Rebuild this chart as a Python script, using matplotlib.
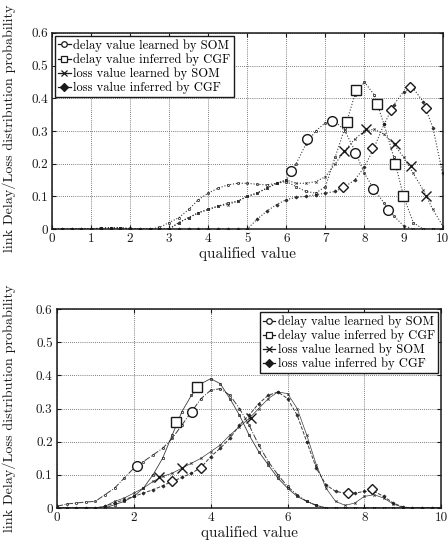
import numpy as np
import matplotlib
matplotlib.use("Agg")
import matplotlib.pyplot as plt
from matplotlib.lines import Line2D
from matplotlib.ticker import FixedLocator, FixedFormatter

plt.rcParams['font.family'] = ['cmr10', 'DejaVu Serif']
plt.rcParams['axes.formatter.use_mathtext'] = True

labels = ["delay value learned by SOM", "delay value inferred by CGF",
          "loss value learned by SOM", "loss value inferred by CGF"]
y_ticks = [0, 0.1, 0.2, 0.3, 0.4, 0.5, 0.6]
y_tick_labels = ["0", "0.1", "0.2", "0.3", "0.4", "0.5", "0.6"]

# ---------------- top panel ----------------
top_x = [0, 0.25, 0.5, 0.75, 1.0, 1.25, 1.5, 1.75, 2.0, 2.25, 2.5, 2.75, 3.0, 3.25, 3.5,
         3.75, 4.0, 4.25, 4.5, 4.75, 5.0, 5.25, 5.5, 5.75, 6.0, 6.25, 6.5, 6.75, 7.0,
         7.25, 7.5, 7.75, 8.0, 8.25, 8.5, 8.75, 9.0, 9.25, 9.5, 9.75, 10.0]
top_delay_som = [0, 0, 0, 0, 0.001, 0.003, 0.004, 0.004, 0.002, 0, 0, 0.005, 0.02, 0.035, 0.06,
                 0.09, 0.11, 0.125, 0.135, 0.14, 0.14, 0.137, 0.135, 0.14, 0.15, 0.2, 0.26, 0.3, 0.325,
                 0.33, 0.3, 0.24, 0.17, 0.12, 0.08, 0.04, 0.01, 0, 0, 0, 0]
top_delay_cgf = [0, 0, 0, 0, 0, 0.002, 0.003, 0.003, 0.001, 0, 0, 0, 0, 0.02, 0.035,
                 0.05, 0.06, 0.07, 0.08, 0.085, 0.1, 0.11, 0.125, 0.14, 0.145, 0.13, 0.115, 0.11, 0.13,
                 0.22, 0.31, 0.41, 0.45, 0.41, 0.32, 0.22, 0.1, 0.02, 0, 0, 0]
top_loss_som = [0, 0, 0, 0, 0, 0.002, 0.003, 0.003, 0.001, 0, 0, 0, 0, 0.02, 0.035,
                0.05, 0.06, 0.07, 0.075, 0.085, 0.1, 0.11, 0.125, 0.14, 0.15, 0.14, 0.14, 0.145, 0.16,
                0.2, 0.24, 0.275, 0.3, 0.305, 0.29, 0.26, 0.22, 0.17, 0.12, 0.06, 0.01]
top_loss_cgf = [0, 0, 0, 0, 0, 0, 0, 0, 0, 0, 0, 0, 0, 0, 0,
                0, 0, 0, 0, 0, 0, 0.03, 0.055, 0.075, 0.09, 0.097, 0.1, 0.105, 0.11,
                0.115, 0.13, 0.15, 0.19, 0.25, 0.32, 0.38, 0.42, 0.43, 0.39, 0.31, 0.17]

top_big_delay_som_x = [6.12, 6.52, 7.16, 7.75, 8.22, 8.6]
top_big_delay_som_y = [0.178, 0.275, 0.33, 0.233, 0.124, 0.058]
top_big_delay_cgf_x = [7.54, 7.78, 8.32, 8.77, 8.98]
top_big_delay_cgf_y = [0.327, 0.425, 0.382, 0.198, 0.101]
top_big_loss_som_x = [7.47, 8.05, 8.79, 9.18, 9.58]
top_big_loss_som_y = [0.24, 0.306, 0.259, 0.193, 0.1]
top_big_loss_cgf_x = [7.46, 8.18, 8.67, 9.17, 9.58]
top_big_loss_cgf_y = [0.129, 0.247, 0.364, 0.435, 0.371]

# ---------------- bottom panel ----------------
bot_x = top_x
bot_delay_som = [0.005, 0.012, 0.015, 0.018, 0.02, 0.04, 0.06, 0.09, 0.12, 0.14, 0.16, 0.18, 0.21, 0.25, 0.29,
                 0.33, 0.355, 0.36, 0.34, 0.3, 0.25, 0.19, 0.14, 0.1, 0.065, 0.04, 0.02, 0.008, 0,
                 0, 0, 0, 0, 0, 0, 0, 0, 0, 0, 0, 0]
bot_delay_cgf = [0, 0, 0, 0, 0, 0, 0.01, 0.02, 0.035, 0.06, 0.1, 0.15, 0.22, 0.29, 0.34,
                 0.375, 0.39, 0.375, 0.33, 0.28, 0.22, 0.17, 0.13, 0.09, 0.06, 0.035, 0.02, 0.008, 0,
                 0, 0, 0, 0, 0, 0, 0, 0, 0, 0, 0, 0]
bot_loss_som = [0, 0, 0, 0, 0, 0.005, 0.02, 0.03, 0.045, 0.06, 0.08, 0.095, 0.105, 0.12, 0.135,
                0.15, 0.17, 0.19, 0.22, 0.245, 0.27, 0.3, 0.33, 0.35, 0.345, 0.3, 0.22, 0.13, 0.06,
                0.02, 0.008, 0.015, 0.035, 0.04, 0.03, 0.012, 0.002, 0, 0, 0, 0]
bot_loss_cgf = [0, 0, 0, 0, 0, 0.005, 0.015, 0.025, 0.035, 0.045, 0.055, 0.067, 0.08, 0.092, 0.105,
                0.122, 0.155, 0.18, 0.21, 0.25, 0.28, 0.315, 0.34, 0.35, 0.33, 0.28, 0.2, 0.12, 0.07,
                0.05, 0.045, 0.045, 0.05, 0.05, 0.035, 0.015, 0.003, 0, 0, 0, 0]

bot_big_delay_som_x = [2.08, 3.51]
bot_big_delay_som_y = [0.127, 0.29]
bot_big_delay_cgf_x = [3.09, 3.64]
bot_big_delay_cgf_y = [0.258, 0.365]
bot_big_loss_som_x = [2.66, 3.26, 5.05]
bot_big_loss_som_y = [0.094, 0.122, 0.27]
bot_big_loss_cgf_x = [3.0, 3.74, 7.58, 8.19]
bot_big_loss_cgf_y = [0.08, 0.12, 0.045, 0.057]

ink = '#1a1a1a'
small_markers = ['o', 's', 'x', 'D']
big_markers = ['o', 's', 'x', 'D']

fig = plt.figure(figsize=(4.48, 5.48), dpi=100)
ax1 = fig.add_axes([0.116, 0.582, 0.872, 0.358])
ax2 = fig.add_axes([0.127, 0.073, 0.858, 0.363])


def draw(ax, x, series, bigs, styles, xticks, legend_loc):
    for i, y in enumerate(series):
        ls, lw = styles[i]
        ax.plot(x, y, color=ink, linestyle=ls, linewidth=lw, marker=small_markers[i],
                markersize=1.6, markerfacecolor='none' if i < 2 else ink,
                markeredgewidth=0.6, alpha=0.85)
    for i, (bx, by) in enumerate(bigs):
        ms = 7 if big_markers[i] != 'D' else 5.5
        ax.plot(bx, by, linestyle='none', marker=big_markers[i], markersize=ms,
                markerfacecolor='white' if big_markers[i] != 'x' else ink,
                markeredgecolor=ink, markeredgewidth=1.0)
    ax.set_xlim(0, 10)
    ax.set_ylim(0, 0.6)
    ax.xaxis.set_major_locator(FixedLocator(xticks))
    ax.xaxis.set_major_formatter(FixedFormatter([str(t) for t in xticks]))
    ax.yaxis.set_major_locator(FixedLocator(y_ticks))
    ax.yaxis.set_major_formatter(FixedFormatter(y_tick_labels))
    ax.grid(True, color='#555555', linestyle=(0, (1, 1.5)), linewidth=0.6)
    ax.tick_params(direction='in', length=3, width=0.8, labelsize=9.5, pad=3,
                   top=True, right=True, colors=ink)
    for s in ax.spines.values():
        s.set_linewidth(1.1)
        s.set_color(ink)
    ax.set_xlabel("qualified value", fontsize=11, labelpad=1, color=ink)
    handles = [Line2D([0], [0], color=ink, linewidth=0.9, marker=small_markers[i],
                      markersize=4, markerfacecolor='white' if i < 2 else ink,
                      markeredgewidth=0.9) for i in range(4)]
    leg = ax.legend(handles, labels, loc=legend_loc, fontsize=9, frameon=True,
                    fancybox=False, edgecolor=ink, framealpha=1, handlelength=1.0,
                    handletextpad=0.2, borderpad=0.25, labelspacing=0.12,
                    borderaxespad=0.25)
    leg.get_frame().set_linewidth(1.0)


draw(ax1, top_x, [top_delay_som, top_delay_cgf, top_loss_som, top_loss_cgf],
     [(top_big_delay_som_x, top_big_delay_som_y), (top_big_delay_cgf_x, top_big_delay_cgf_y),
      (top_big_loss_som_x, top_big_loss_som_y), (top_big_loss_cgf_x, top_big_loss_cgf_y)],
     [(':', 0.8), (':', 0.8), (':', 0.8), (':', 0.8)],
     list(range(0, 11)), 'upper left')
draw(ax2, bot_x, [bot_delay_som, bot_delay_cgf, bot_loss_som, bot_loss_cgf],
     [(bot_big_delay_som_x, bot_big_delay_som_y), (bot_big_delay_cgf_x, bot_big_delay_cgf_y),
      (bot_big_loss_som_x, bot_big_loss_som_y), (bot_big_loss_cgf_x, bot_big_loss_cgf_y)],
     [('-.', 0.7), ('-', 0.6), ('-', 0.5), ('--', 0.7)],
     [0, 2, 4, 6, 8, 10], 'upper right')

fig.text(0.02, 1 - 128 / 548, "link Delay/Loss distribution probability", rotation=90,
         ha='center', va='center', fontsize=10.2, color=ink)
fig.text(0.02, 1 - 408 / 548, "link Delay/Loss distribution probability", rotation=90,
         ha='center', va='center', fontsize=10.2, color=ink)

fig.savefig("out.png", dpi=100)
